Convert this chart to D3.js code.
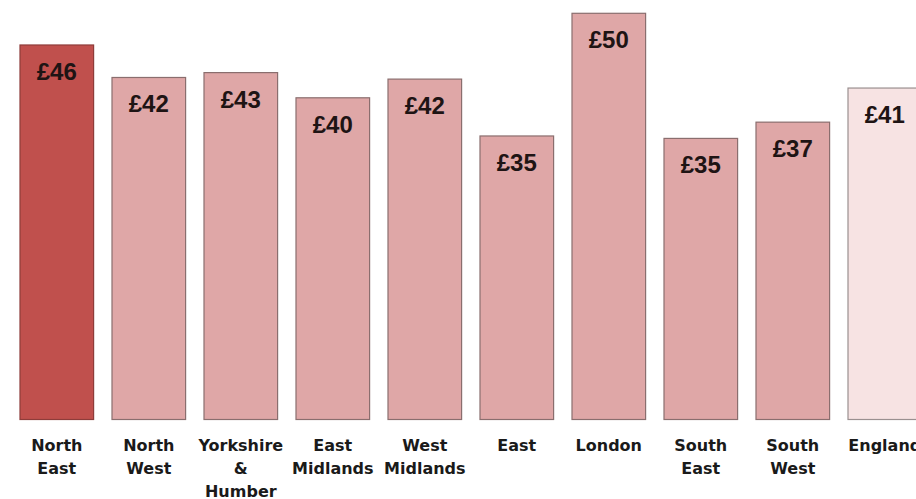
<!DOCTYPE html>
<html>
<head>
<meta charset="utf-8">
<script src="https://cdn.jsdelivr.net/npm/d3@7"></script>
<style>
  html, body { margin: 0; padding: 0; background: #ffffff; }
  svg { display: block; }
</style>
</head>
<body>
<svg id="chart" width="916" height="499"></svg>
<script>
// Data
const categories = ["North East", "North West", "Yorkshire & Humber", "East Midlands", "West Midlands", "East", "London", "South East", "South West", "England"];
const categoryLines = [["North", "East"], ["North", "West"], ["Yorkshire", "&", "Humber"], ["East", "Midlands"], ["West", "Midlands"], ["East"], ["London"], ["South", "East"], ["South", "West"], ["England"]];
const values = [46.1, 42.1, 42.7, 39.6, 41.9, 34.9, 50.0, 34.6, 36.6, 40.8];
const groups = ["highlight", "region", "region", "region", "region", "region", "region", "region", "region", "national"];

const W = 916, H = 499;
const baseY = 419.5, topY = 13.3;

const svg = d3.select("#chart");

const x = d3.scaleBand()
  .domain(categories)
  .range([10.8, 930.8])
  .paddingInner(0.2)
  .paddingOuter(0.1);

const y = d3.scaleLinear()
  .domain([0, 50])
  .range([baseY, topY]);

const fill = d3.scaleOrdinal()
  .domain(["highlight", "region", "national"])
  .range(["#c0504d", "#dfa7a7", "#f7e3e3"]);
const stroke = d3.scaleOrdinal()
  .domain(["highlight", "region", "national"])
  .range(["#8e3c3a", "#8a6e6e", "#9a9090"]);

const data = categories.map((c, i) => ({ c, v: values[i], g: groups[i], lines: categoryLines[i] }));

svg.selectAll("rect.bar")
  .data(data)
  .join("rect")
  .attr("class", "bar")
  .attr("x", d => x(d.c))
  .attr("y", d => y(d.v))
  .attr("width", x.bandwidth())
  .attr("height", d => y(0) - y(d.v))
  .attr("fill", d => fill(d.g))
  .attr("stroke", d => stroke(d.g))
  .attr("stroke-width", 1.2);

svg.selectAll("text.val")
  .data(data)
  .join("text")
  .attr("class", "val")
  .attr("x", d => x(d.c) + x.bandwidth() / 2)
  .attr("y", d => y(d.v) + 35)
  .attr("text-anchor", "middle")
  .attr("font-family", "'Liberation Sans', Arial, sans-serif")
  .attr("font-weight", "bold")
  .attr("font-size", 24)
  .attr("fill", "#1e1414")
  .text(d => "£" + Math.round(d.v));

const lab = svg.selectAll("text.cat")
  .data(data)
  .join("text")
  .attr("class", "cat")
  .attr("x", d => x(d.c) + x.bandwidth() / 2)
  .attr("y", 451)
  .attr("text-anchor", "middle")
  .attr("font-family", "'DejaVu Sans', Verdana, sans-serif")
  .attr("font-weight", "bold")
  .attr("font-size", 16)
  .attr("fill", "#1a1a1a");

lab.selectAll("tspan")
  .data(d => d.lines.map(l => ({ l, cx: x(d.c) + x.bandwidth() / 2 })))
  .join("tspan")
  .attr("x", t => t.cx)
  .attr("dy", (t, i) => i === 0 ? 0 : 23)
  .text(t => t.l);
</script>
</body>
</html>
